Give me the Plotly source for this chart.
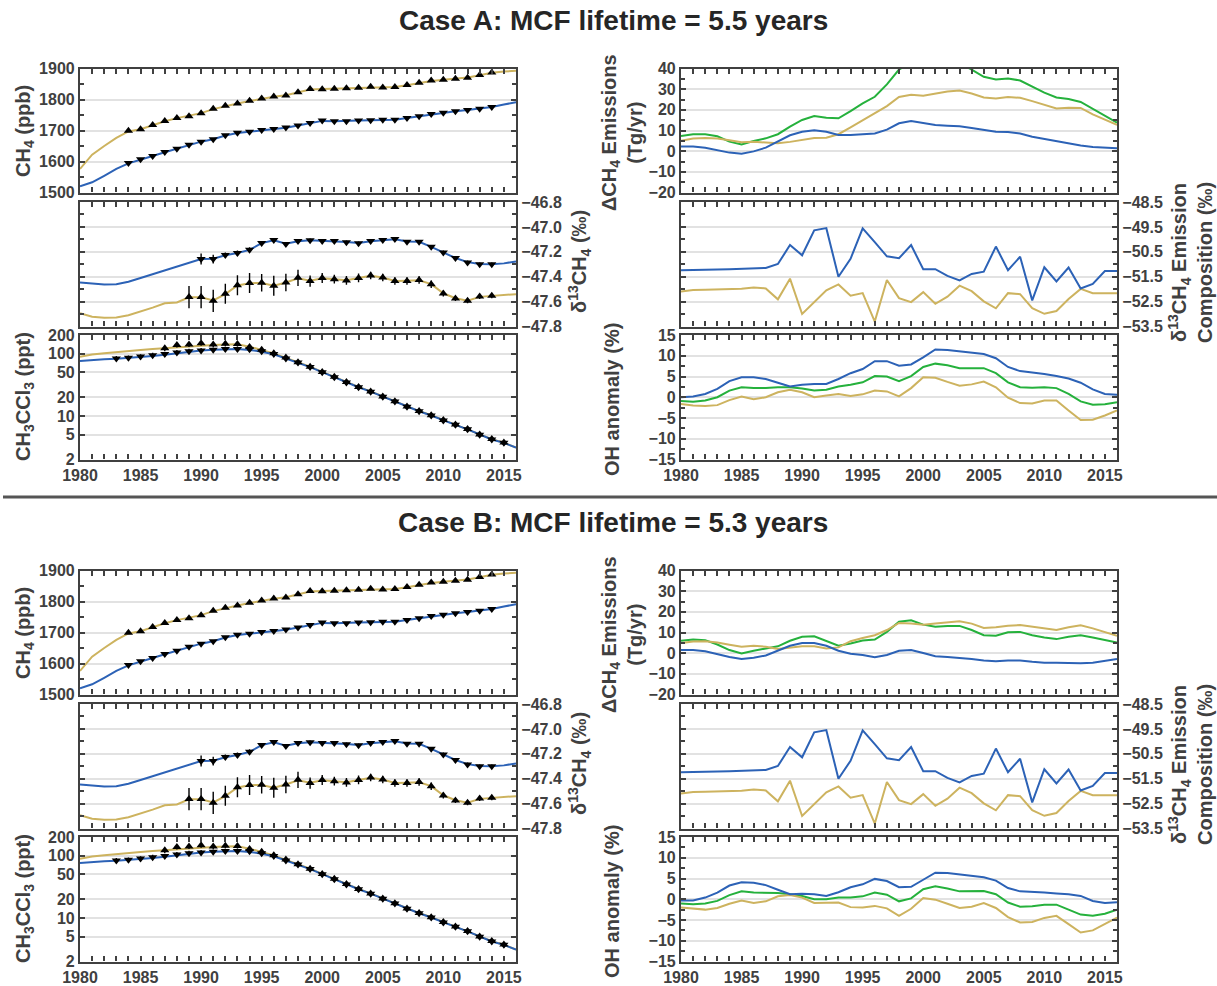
import math
import plotly.graph_objects as go

# ---------------------------------------------------------------------------
# Data
# ---------------------------------------------------------------------------
years = list(range(1980, 2017))

# CH4 mole fraction (ppb): model fits (lines) and hemispheric observations
ch4_north_model = [1576, 1622, 1650, 1676, 1697, 1704, 1717, 1730, 1740, 1747,
                   1756, 1769, 1779, 1787, 1795, 1803, 1809, 1814, 1823, 1832,
                   1834, 1835, 1836, 1838, 1840, 1839, 1840, 1846, 1853, 1860,
                   1864, 1867, 1871, 1878, 1886, 1890, 1893]
ch4_south_model = [1520, 1533, 1554, 1576, 1594, 1607, 1618, 1630, 1641, 1653,
                   1664, 1672, 1684, 1692, 1696, 1702, 1705, 1709, 1716, 1724,
                   1731, 1730, 1730, 1732, 1733, 1735, 1735, 1740, 1746, 1752,
                   1757, 1762, 1766, 1770, 1776, 1784, 1791]
ch4_obs_years = list(range(1984, 2015))
ch4_north_obs = [1699, 1704, 1718, 1731, 1740, 1746, 1756, 1770, 1780, 1787,
                 1796, 1803, 1810, 1813, 1823, 1834, 1833, 1835, 1836, 1838,
                 1841, 1839, 1840, 1847, 1854, 1861, 1864, 1867, 1870, 1879, 1887]
ch4_south_obs = [1595, 1607, 1618, 1631, 1641, 1654, 1664, 1672, 1685, 1693,
                 1696, 1702, 1705, 1710, 1716, 1724, 1732, 1730, 1730, 1732,
                 1733, 1735, 1735, 1740, 1746, 1753, 1757, 1762, 1766, 1770, 1776]

# d13C of atmospheric CH4 (permil)
d13c_south_model = [-47.446, -47.457, -47.462, -47.460, -47.440, -47.410, -47.380,
                    -47.350, -47.320, -47.290, -47.258, -47.255, -47.228, -47.210,
                    -47.185, -47.130, -47.108, -47.135, -47.115, -47.108, -47.112,
                    -47.113, -47.122, -47.130, -47.115, -47.107, -47.100, -47.118,
                    -47.120, -47.160, -47.205, -47.250, -47.283, -47.298, -47.300,
                    -47.293, -47.277]
d13c_north_model = [-47.693, -47.722, -47.730, -47.727, -47.710, -47.680, -47.648,
                    -47.613, -47.607, -47.565, -47.566, -47.590, -47.540, -47.470,
                    -47.452, -47.450, -47.472, -47.447, -47.412, -47.433, -47.412,
                    -47.420, -47.428, -47.410, -47.393, -47.407, -47.434, -47.432,
                    -47.428, -47.460, -47.533, -47.573, -47.593, -47.562, -47.555,
                    -47.553, -47.540]
d13c_south_obs_years = list(range(1990, 2015))
d13c_south_obs = [-47.258, -47.258, -47.226, -47.210, -47.183, -47.130, -47.106,
                  -47.138, -47.114, -47.108, -47.114, -47.114, -47.124, -47.132,
                  -47.114, -47.106, -47.098, -47.120, -47.120, -47.160, -47.205,
                  -47.250, -47.285, -47.300, -47.300]
d13c_south_err = [0.045, 0.035, 0.02, 0.02, 0.02, 0.015, 0.015, 0.015, 0.015,
                  0.015, 0.015, 0.015, 0.015, 0.015, 0.015, 0.015, 0.015, 0.015,
                  0.015, 0.015, 0.015, 0.015, 0.015, 0.015, 0.015]
d13c_north_obs_years = list(range(1989, 2015))
d13c_north_obs = [-47.564, -47.564, -47.594, -47.537, -47.468, -47.450, -47.449,
                  -47.473, -47.446, -47.409, -47.435, -47.410, -47.420, -47.430,
                  -47.410, -47.390, -47.406, -47.435, -47.435, -47.427, -47.460,
                  -47.535, -47.575, -47.594, -47.560, -47.553]
d13c_north_err = [0.09, 0.09, 0.09, 0.08, 0.08, 0.08, 0.07, 0.08, 0.07, 0.065,
                  0.045, 0.04, 0.035, 0.035, 0.035, 0.03, 0.03, 0.03, 0.03, 0.03,
                  0.03, 0.025, 0.02, 0.02, 0.02, 0.02]

# CH3CCl3 (methyl chloroform, ppt)
mcf_south_model = [76.6, 79.5, 81.5, 83.3, 85.5, 88.8, 92, 96, 102, 109, 113, 116,
                   119, 119, 115, 108, 98, 84.2, 72.3, 61, 50.6, 41.9, 34.6, 29.0,
                   24.6, 20.4, 17.1, 14.1, 11.9, 10.2, 8.5, 7.2, 6.1, 5.0, 4.2,
                   3.7, 3.1]
mcf_north_model = [89.6, 97, 102, 107, 110, 115, 119, 123, 127, 131, 134, 138, 141,
                   142, 130, 116, 101, 86, 73.5, 62, 51.2, 42.3, 35, 29.3, 24.8,
                   20.6, 17.2, 14.2, 12.0, 10.3, 8.6, 7.25, 6.15, 5.05, 4.25,
                   3.72, 3.12]
mcf_south_obs_years = list(range(1983, 2016))
mcf_south_obs = [84, 86, 90, 95, 99, 105, 110, 113, 116, 119, 119, 118, 110, 99,
                 84, 72, 61, 50.5, 42, 34.6, 29, 24.6, 20.4, 17.1, 14.1, 11.9,
                 10.2, 8.5, 7.2, 6.1, 5.0, 4.2, 3.7]
mcf_north_obs_years = list(range(1987, 2016))
mcf_north_obs = [122, 138, 141, 147, 141, 145, 143, 128, 116, 102, 87, 73, 62, 51,
                 42.5, 35, 29.3, 24.8, 20.6, 17.2, 14.2, 12, 10.3, 8.6, 7.3, 6.2,
                 5.05, 4.25, 3.75]

# Case A: change in CH4 emissions (Tg/yr)
emis_a_blue = [2.2, 2.2, 1.7, 0.6, -0.7, -1.2, -0.1, 1.7, 4.6, 7.7, 9.4, 10.1, 9.4,
               7.8, 7.8, 8.2, 8.6, 10.4, 13.5, 14.6, 13.8, 12.7, 12.3, 12.0, 11.2,
               10.2, 9.4, 9.3, 8.5, 7.0, 5.9, 4.9, 3.6, 2.7, 2.0, 1.7, 1.4]
emis_a_gold = [5.0, 6.1, 6.4, 6.1, 5.3, 4.3, 4.5, 4.1, 3.8, 4.5, 5.4, 6.4, 6.5, 8.2,
               11.5, 14.9, 18.1, 21.8, 26.2, 27.3, 26.8, 27.9, 28.9, 29.4, 27.9,
               26.0, 25.5, 26.2, 25.8, 24.2, 22.3, 20.7, 21.0, 20.9, 17.8, 15.1,
               12.7]
emis_a_green = [7.3, 8.2, 8.2, 7.2, 4.6, 3.2, 4.9, 6.2, 8.2, 11.9, 15.1, 17.0, 16.2,
                15.9, 19.4, 23.1, 26.3, 32.3, 39.5, 43.0, 44.5, 45.0, 44.5, 42.5,
                39.5, 36.0, 34.7, 35.2, 34.2, 31.2, 28.3, 26.0, 25.2, 23.8, 20.5,
                17.0, 13.8]

# Case B: change in CH4 emissions (Tg/yr)
emis_b_blue = [1.5, 1.5, 0.9, -0.4, -1.9, -2.8, -2.2, -1.1, 1.2, 3.6, 4.9, 4.9, 3.6,
               1.2, -0.3, -0.9, -2.0, -0.9, 1.2, 1.5, 0.1, -1.5, -1.9, -2.2, -2.8,
               -3.5, -3.9, -3.5, -3.5, -4.2, -4.6, -4.6, -4.7, -4.9, -4.6, -3.8,
               -2.8]
emis_b_gold = [4.9, 5.7, 5.8, 5.2, 4.1, 3.1, 3.6, 3.1, 2.0, 2.5, 3.3, 3.3, 2.3, 2.8,
               5.8, 7.3, 8.7, 11.2, 14.6, 14.4, 13.8, 14.3, 14.9, 15.4, 14.3, 12.2,
               12.5, 13.3, 13.6, 12.8, 11.7, 11.2, 12.5, 13.5, 12.0, 10.1, 8.4]
emis_b_green = [6.0, 6.6, 6.3, 4.2, 1.5, -0.1, 1.2, 2.3, 3.3, 6.0, 7.9, 8.2, 6.0,
                3.6, 4.7, 6.1, 6.6, 10.3, 15.2, 15.9, 13.8, 12.8, 13.2, 13.2, 11.2,
                8.7, 8.4, 10.1, 10.3, 8.7, 7.6, 6.8, 7.9, 8.7, 7.6, 6.3, 5.2]

# d13C of the CH4 emission source (permil), same in both cases
src_blue = [-51.24, -51.22, -51.22, -51.21, -51.20, -51.19, -51.17, -51.15, -50.99,
            -50.23, -50.64, -49.64, -49.55, -51.50, -50.78, -49.56, -50.11, -50.68,
            -50.76, -50.23, -51.20, -51.20, -51.47, -51.65, -51.39, -51.30, -50.29,
            -51.24, -50.70, -52.45, -51.12, -51.69, -51.13, -51.97, -51.79, -51.27,
            -51.27]
src_gold = [-52.09, -52.03, -52.02, -52.01, -52.00, -51.98, -51.93, -51.97, -52.41,
            -51.58, -53.00, -52.51, -52.05, -51.81, -52.26, -52.16, -53.30, -51.63,
            -52.36, -52.52, -52.12, -52.59, -52.30, -51.86, -52.08, -52.49, -52.77,
            -52.16, -52.20, -52.76, -52.99, -52.88, -52.40, -51.99, -52.16, -52.16,
            -52.16]

# OH anomaly (%)
oh_a_blue = [0.0, 0.2, 0.8, 2.0, 3.9, 4.8, 4.8, 4.4, 3.5, 2.6, 3.0, 3.2, 3.2, 4.4,
             5.8, 6.8, 8.7, 8.7, 7.6, 7.9, 9.6, 11.5, 11.4, 11.1, 10.8, 10.4, 9.4,
             7.3, 6.3, 6.0, 5.6, 5.1, 4.5, 3.5, 1.9, 0.8, 0.6]
oh_a_green = [-0.9, -1.1, -0.8, 0.0, 1.6, 2.4, 2.2, 2.2, 2.4, 2.4, 2.1, 1.6, 1.8,
              2.6, 3.0, 3.6, 5.1, 5.0, 3.9, 5.1, 7.3, 8.1, 7.7, 7.0, 7.0, 7.0, 5.8,
              3.6, 2.4, 2.3, 2.4, 2.2, 0.8, -1.0, -1.8, -1.7, -1.2]
oh_a_gold = [-1.6, -2.0, -2.1, -1.9, -0.7, 0.2, -0.5, 0.0, 1.2, 1.8, 1.2, 0.0, 0.4,
             0.8, 0.3, 0.7, 1.6, 1.4, 0.2, 2.2, 4.8, 4.7, 3.7, 2.8, 3.1, 3.8, 2.4,
             -0.1, -1.4, -1.5, -0.8, -0.8, -3.2, -5.5, -5.4, -4.4, -3.2]
oh_b_blue = [-0.3, -0.3, 0.4, 1.6, 3.3, 4.1, 4.0, 3.4, 2.3, 1.2, 1.3, 1.2, 0.8, 1.7,
             2.9, 3.6, 4.9, 4.4, 2.9, 3.0, 4.7, 6.4, 6.3, 6.0, 5.7, 5.3, 4.5, 2.7,
             1.9, 1.8, 1.6, 1.4, 1.2, 0.8, -0.4, -0.9, -0.7]
oh_b_green = [-1.0, -1.2, -1.0, -0.4, 1.0, 1.9, 1.6, 1.5, 1.5, 1.2, 0.8, 0.0, 0.0,
              0.4, 0.4, 0.7, 1.6, 1.1, -0.5, 0.2, 2.4, 3.1, 2.6, 1.9, 2.0, 2.0, 1.2,
              -0.8, -1.8, -1.7, -1.3, -1.3, -2.5, -3.7, -4.0, -3.5, -2.5]
oh_b_gold = [-2.0, -2.3, -2.5, -2.1, -1.1, -0.3, -0.9, -0.5, 0.7, 1.0, 0.4, -0.9,
             -0.8, -0.8, -1.9, -2.0, -1.6, -2.2, -4.0, -2.3, 0.3, -0.1, -1.1, -2.1,
             -1.8, -0.9, -2.1, -4.3, -5.6, -5.5, -4.5, -4.0, -6.0, -8.0, -7.5, -6.0,
             -4.4]

case_titles = ["Case A: MCF lifetime = 5.5 years", "Case B: MCF lifetime = 5.3 years"]

# ---------------------------------------------------------------------------
# Styling / layout helpers
# ---------------------------------------------------------------------------
W, H = 1217, 986
BLUE = "#2c62b6"
GOLD = "#cdb35f"
GREEN = "#25b13c"
AXIS = "#404040"
GRID = "#e2e2e2"
FONT = "Liberation Sans, Arial, Helvetica, sans-serif"
TICKFONT = dict(family=FONT, size=16, color=AXIS, weight="bold")
TITLEFONT = dict(family=FONT, size=20, color=AXIS, weight="bold")

LEFT_COL = (80, 516)
RIGHT_COL = (681, 1117)
ROWS = [[(68.5, 192.5), (202, 326.5), (335, 459.5)]]
ROWS.append([(t + 502, b + 502) for t, b in ROWS[0]])
CASE_SHIFT = 502


def xdom(col):
    return [col[0] / W, col[1] / W]


def ydom(row):
    return [1 - row[1] / H, 1 - row[0] / H]


fig = go.Figure()
layout = dict(
    width=W, height=H, autosize=False,
    margin=dict(l=0, r=0, t=0, b=0, pad=0, autoexpand=False),
    paper_bgcolor="white", plot_bgcolor="white", showlegend=False,
    font=dict(family=FONT, color=AXIS),
)
annotations = []
shapes = []


def make_xaxis(n, col, show_labels):
    layout[f"xaxis{n}"] = dict(
        domain=xdom(col), anchor=f"y{n}", range=[1980, 2016], automargin=False,
        tick0=1980, dtick=5, ticks="inside", ticklen=5, tickwidth=1.5,
        tickcolor=AXIS, showline=True, linecolor=AXIS, linewidth=2.2,
        mirror="allticks", showgrid=False, zeroline=False,
        showticklabels=show_labels, tickfont=TICKFONT,
        minor=dict(dtick=1, ticks="inside", ticklen=5, tickwidth=1.5,
                   tickcolor=AXIS, showgrid=False),
    )


def make_yaxis(n, row, side="left", **kw):
    ax = dict(
        domain=ydom(row), anchor=f"x{n}", side=side, automargin=False,
        ticks="inside", ticklen=5, tickwidth=1.5, tickcolor=AXIS,
        showline=True, linecolor=AXIS, linewidth=2.2, mirror="allticks",
        showgrid=True, gridcolor=GRID, gridwidth=1.6, zeroline=False,
        tickfont=TICKFONT,
    )
    ax.update(kw)
    layout[f"yaxis{n}"] = ax


def line(n, x, y, color):
    fig.add_trace(go.Scatter(x=x, y=y, mode="lines", xaxis=f"x{n}", yaxis=f"y{n}",
                             line=dict(color=color, width=2), hoverinfo="skip"))


def obs(n, x, y, symbol, err=None, pct=None):
    if err is not None:
        ey = dict(type="data", array=err, color="black", thickness=1.4, width=0)
    elif pct is not None:
        ey = dict(type="percent", value=pct, color="black", thickness=1.4, width=0)
    else:
        ey = None
    fig.add_trace(go.Scatter(x=x, y=y, mode="markers", xaxis=f"x{n}", yaxis=f"y{n}",
                             marker=dict(symbol=symbol, size=8, color="black",
                                         line=dict(width=0)),
                             error_y=ey, hoverinfo="skip"))


def vtitle(text, xpx, ypx):
    annotations.append(dict(
        text=text, x=xpx / W, y=1 - ypx / H, xref="paper", yref="paper",
        xanchor="center", yanchor="middle", textangle=-90, showarrow=False,
        font=TITLEFONT, align="center"))


cases = [
    (emis_a_blue, emis_a_gold, emis_a_green, oh_a_blue, oh_a_gold, oh_a_green),
    (emis_b_blue, emis_b_gold, emis_b_green, oh_b_blue, oh_b_gold, oh_b_green),
]

for c, (eb, eg, egr, ob, og, ogr) in enumerate(cases):
    rows = ROWS[c]
    base = c * 6
    dy = c * CASE_SHIFT

    # --- left column: CH4 ---
    n = base + 1
    make_xaxis(n, LEFT_COL, False)
    make_yaxis(n, rows[0], range=[1500, 1900], dtick=100, tick0=1500,
               minor=dict(dtick=50, ticks="inside", ticklen=4, tickwidth=1.5,
                          tickcolor=AXIS, showgrid=False))
    line(n, years, ch4_north_model, GOLD)
    line(n, years, ch4_south_model, BLUE)
    obs(n, ch4_obs_years, ch4_north_obs, "triangle-up")
    obs(n, ch4_obs_years, ch4_south_obs, "triangle-down")
    vtitle("CH<sub>4</sub> (ppb)", 24, 131 + dy)

    # --- left column: d13C-CH4 ---
    n = base + 2
    make_xaxis(n, LEFT_COL, False)
    make_yaxis(n, rows[1], side="right", range=[-47.8, -46.8], dtick=0.2,
               tick0=-47.8, tickformat=".1f",
               minor=dict(dtick=0.1, ticks="inside", ticklen=4, tickwidth=1.5,
                          tickcolor=AXIS, showgrid=False))
    line(n, years, d13c_north_model, GOLD)
    line(n, years, d13c_south_model, BLUE)
    obs(n, d13c_north_obs_years, d13c_north_obs, "triangle-up", err=d13c_north_err)
    obs(n, d13c_south_obs_years, d13c_south_obs, "triangle-down", err=d13c_south_err)
    vtitle("δ<sup>13</sup>CH<sub>4</sub> (‰)", 579, 262 + dy)

    # --- left column: CH3CCl3 ---
    n = base + 3
    make_xaxis(n, LEFT_COL, True)
    make_yaxis(n, rows[2], type="log", range=[math.log10(2), math.log10(200)],
               tickvals=[2, 5, 10, 20, 50, 100, 200],
               ticktext=["2", "5", "10", "20", "50", "100", "200"])
    line(n, years, mcf_north_model, GOLD)
    line(n, years, mcf_south_model, BLUE)
    obs(n, mcf_north_obs_years, mcf_north_obs, "triangle-up", pct=9)
    obs(n, mcf_south_obs_years, mcf_south_obs, "triangle-down", pct=9)
    vtitle("CH<sub>3</sub>CCl<sub>3</sub> (ppt)", 24, 397 + dy)

    # --- right column: emission changes ---
    n = base + 4
    make_xaxis(n, RIGHT_COL, False)
    make_yaxis(n, rows[0], range=[-20, 40], dtick=10, tick0=-20,
               minor=dict(dtick=5, ticks="inside", ticklen=4, tickwidth=1.5,
                          tickcolor=AXIS, showgrid=False))
    line(n, years, egr, GREEN)
    line(n, years, eg, GOLD)
    line(n, years, eb, BLUE)
    vtitle("ΔCH<sub>4</sub> Emissions<br>(Tg/yr)", 622, 133 + dy)

    # --- right column: source isotopic composition ---
    n = base + 5
    make_xaxis(n, RIGHT_COL, False)
    make_yaxis(n, rows[1], side="right", range=[-53.5, -48.5], dtick=1,
               tick0=-53.5, tickformat=".1f",
               minor=dict(dtick=0.5, ticks="inside", ticklen=4, tickwidth=1.5,
                          tickcolor=AXIS, showgrid=False))
    line(n, years, src_gold, GOLD)
    line(n, years, src_blue, BLUE)
    vtitle("δ<sup>13</sup>CH<sub>4</sub> Emission<br>Composition (‰)", 1190, 263 + dy)

    # --- right column: OH anomaly ---
    n = base + 6
    make_xaxis(n, RIGHT_COL, True)
    make_yaxis(n, rows[2], range=[-15, 15], dtick=5, tick0=-15,
               minor=dict(dtick=2.5, ticks="inside", ticklen=4, tickwidth=1.5,
                          tickcolor=AXIS, showgrid=False))
    line(n, years, ogr, GREEN)
    line(n, years, og, GOLD)
    line(n, years, ob, BLUE)
    vtitle("OH anomaly (%)", 612, 400 + dy)

    # case heading
    annotations.append(dict(
        text=case_titles[c], x=613 / W, y=1 - (20 + dy) / H, xref="paper",
        yref="paper", xanchor="center", yanchor="middle", showarrow=False,
        font=dict(family=FONT, size=28, color="#262626", weight="bold")))

# divider between the two cases
shapes.append(dict(type="line", xref="paper", yref="paper", x0=3 / W, x1=1,
                   y0=1 - 497 / H, y1=1 - 497 / H,
                   line=dict(color="#555555", width=3)))

layout["annotations"] = annotations
layout["shapes"] = shapes
fig.update_layout(**layout)
fig.write_html("out.html")
